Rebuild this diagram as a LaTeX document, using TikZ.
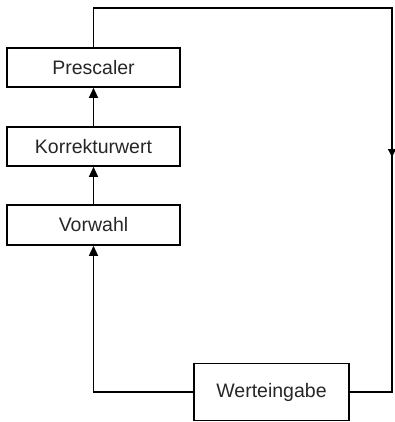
\documentclass[tikz,border=0pt]{standalone}
\usepackage{fontspec}
\setmainfont{Liberation Sans}
\usetikzlibrary{arrows.meta}
\begin{document}
\begin{tikzpicture}[x=1pt,y=-1pt,
  box/.style={draw, line width=1.6pt, rectangle, inner sep=0pt, font=\fontsize{19.5}{22}\selectfont, text=black!85},
  conn/.style={line width=1.3pt},
  tip/.style={-{Triangle[width=9pt,length=10pt]}}]
\useasboundingbox (0,0) rectangle (394,422);
\node[box, minimum width=173pt, minimum height=39pt] (pre) at (93.5,67.5) {Prescaler};
\node[box, minimum width=173pt, minimum height=39pt] (kor) at (93.5,146.5) {Korrekturwert};
\node[box, minimum width=173pt, minimum height=40pt] (vor) at (93.5,225) {Vorwahl};
\node[box, minimum width=155pt, minimum height=57pt] (wer) at (271.5,392) {Werteingabe};
\coordinate (m) at (392,157);
\draw[conn, tip] (kor.north) -- (pre.south);
\draw[conn, tip] (vor.north) -- (kor.south);
\draw[conn, tip] (wer.west) -| (vor.south);
\draw[conn] (wer.east) -- (392,392) -- (392,8) -- (93.5,8) -- (pre.north);
\draw[conn, -{Triangle[width=8pt,length=8pt]}] (392,140) -- (m);
\end{tikzpicture}
\end{document}
